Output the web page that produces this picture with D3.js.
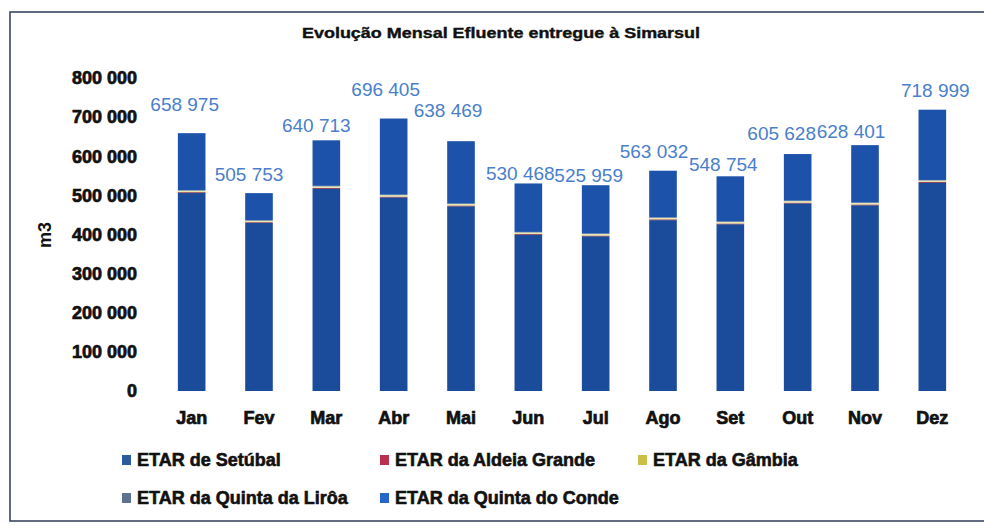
<!DOCTYPE html>
<html>
<head>
<meta charset="utf-8">
<script src="https://cdn.jsdelivr.net/npm/d3@7"></script>
<style>
  html, body { margin: 0; padding: 0; background: #fff; }
  svg { display: block; }
  .bold { font-family: "Liberation Sans", Arial, sans-serif; font-weight: bold; fill: #111; }
</style>
</head>
<body>
<svg id="chart" width="984" height="529"></svg>
<script>
'use strict';
// monthly effluent delivered to Simarsul, m3, by treatment plant
const months = ['Jan', 'Fev', 'Mar', 'Abr', 'Mai', 'Jun', 'Jul', 'Ago', 'Set', 'Out', 'Nov', 'Dez'];
const plants = ['ETAR de Setúbal', 'ETAR da Aldeia Grande', 'ETAR da Gâmbia',
  'ETAR da Quinta da Lirôa', 'ETAR da Quinta do Conde'];
const setubal = [506000, 429500, 517000, 494800, 472000, 399400, 395400, 436700, 426200, 479400, 474600, 532200];
const aldeiaGrande = [2100, 1900, 2200, 2000, 2100, 1800, 1900, 2000, 1900, 2000, 2100, 2200];
const gambia = [4100, 3900, 4000, 3900, 3900, 4200, 4100, 4000, 4100, 4000, 3900, 3800];
const quintaLiroa = [1200, 1200, 1200, 1200, 1200, 1200, 1200, 1200, 1200, 1200, 1200, 1200];
const quintaConde = [145575, 69253, 116313, 194505, 159269, 123868, 123359, 119132, 115354, 119028, 146601, 179599];
const yTicks = [0, 100000, 200000, 300000, 400000, 500000, 600000, 700000, 800000];

// where Excel left each total label, relative to the top of its bar [dx, dy]
const labelNudge = [[-7, -29], [-10, -19], [-10, -15], [-8, -29], [-13, -31], [-8, -10],
  [-7, -10], [-9, -19], [-7, -12], [-16, -21], [-14, -14], [3, -19]];

const barColor = ['#1b4c9c', '#7a1a36', '#ece6ad', '#3f5f92', '#1c52aa'];
const keyColor = ['#2a5c9c', '#b8304e', '#c9c045', '#5f7191', '#2566c8'];

const svg = d3.select('#chart');
const fmt = d3.formatLocale({ decimal: ',', thousands: ' ', grouping: [3], currency: ['', ''] }).format(',');

const keys = ['setubal', 'aldeia', 'gambia', 'liroa', 'conde'];
const rows = months.map((m, i) => ({
  month: m,
  setubal: setubal[i], aldeia: aldeiaGrande[i], gambia: gambia[i],
  liroa: quintaLiroa[i], conde: quintaConde[i],
}));
const totals = rows.map((r) => d3.sum(keys, (k) => r[k]));
const stacked = d3.stack().keys(keys)(rows);

const x = d3.scaleBand()
  .domain(months)
  .range([158, 966])
  .paddingInner(0.59)
  .paddingOuter(0.295);
const y = d3.scaleLinear()
  .domain([0, 800000])
  .range([391, 78]);

// frame of the scanned chart area
svg.append('rect')
  .attr('x', 10).attr('y', 12)
  .attr('width', 990).attr('height', 509)
  .attr('fill', 'none')
  .attr('stroke', '#3b4560')
  .attr('stroke-width', 1.6);

svg.append('text')
  .attr('class', 'bold')
  .attr('x', 302).attr('y', 38)
  .attr('textLength', 398)
  .attr('lengthAdjust', 'spacingAndGlyphs')
  .style('font-size', '15px')
  .style('stroke', '#111').style('stroke-width', 0.4)
  .text('Evolução Mensal Efluente entregue à Simarsul');

// y axis, labels only
const yAxis = svg.append('g')
  .attr('transform', 'translate(137,0)')
  .call(d3.axisLeft(y).tickValues(yTicks).tickSize(0).tickPadding(0).tickFormat(fmt));
yAxis.select('.domain').remove();
yAxis.selectAll('text')
  .attr('class', 'bold')
  .style('font-size', '18px')
  .style('stroke', '#111').style('stroke-width', 0.7);

svg.append('text')
  .attr('class', 'bold')
  .attr('transform', 'translate(45,235) rotate(-90)')
  .attr('text-anchor', 'middle')
  .attr('dy', '0.35em')
  .style('font-size', '18px')
  .text('m3');

// x axis, labels only
const xAxis = svg.append('g')
  .attr('transform', 'translate(0,391)')
  .call(d3.axisBottom(x).tickSize(0).tickPadding(20));
xAxis.select('.domain').remove();
xAxis.selectAll('text')
  .attr('class', 'bold')
  .style('font-size', '18px')
  .style('stroke', '#111').style('stroke-width', 0.7);

// stacked bars
svg.append('g')
  .selectAll('g')
  .data(stacked)
  .join('g')
    .attr('fill', (d, i) => barColor[i])
  .selectAll('rect')
  .data((d) => d)
  .join('rect')
    .attr('x', (d) => x(d.data.month))
    .attr('y', (d) => y(d[1]))
    .attr('width', x.bandwidth())
    .attr('height', (d) => y(d[0]) - y(d[1]));

// total labels
svg.append('g')
  .selectAll('text')
  .data(months)
  .join('text')
    .attr('x', (m, i) => x(m) + x.bandwidth() / 2 + labelNudge[i][0])
    .attr('y', (m, i) => y(totals[i]) + labelNudge[i][1])
    .attr('dy', '0.35em')
    .attr('text-anchor', 'middle')
    .style('font-family', '"Liberation Sans", Arial, sans-serif')
    .style('font-size', '19px')
    .style('fill', '#4a80cb')
    .text((m, i) => fmt(totals[i]));

// legend: three columns, two rows
const legend = svg.append('g')
  .selectAll('g')
  .data(plants)
  .join('g')
    .attr('transform', (d, i) => `translate(${122 + (i % 3) * 258},${460 + Math.floor(i / 3) * 38})`);
legend.append('rect')
  .attr('x', 0).attr('y', -5)
  .attr('width', 9).attr('height', 10)
  .attr('fill', (d, i) => keyColor[i]);
legend.append('text')
  .attr('class', 'bold')
  .attr('x', 15)
  .attr('dy', '0.36em')
  .style('font-size', '18px')
  .style('stroke', '#111').style('stroke-width', 0.6)
  .text((d) => d);
</script>
</body>
</html>
